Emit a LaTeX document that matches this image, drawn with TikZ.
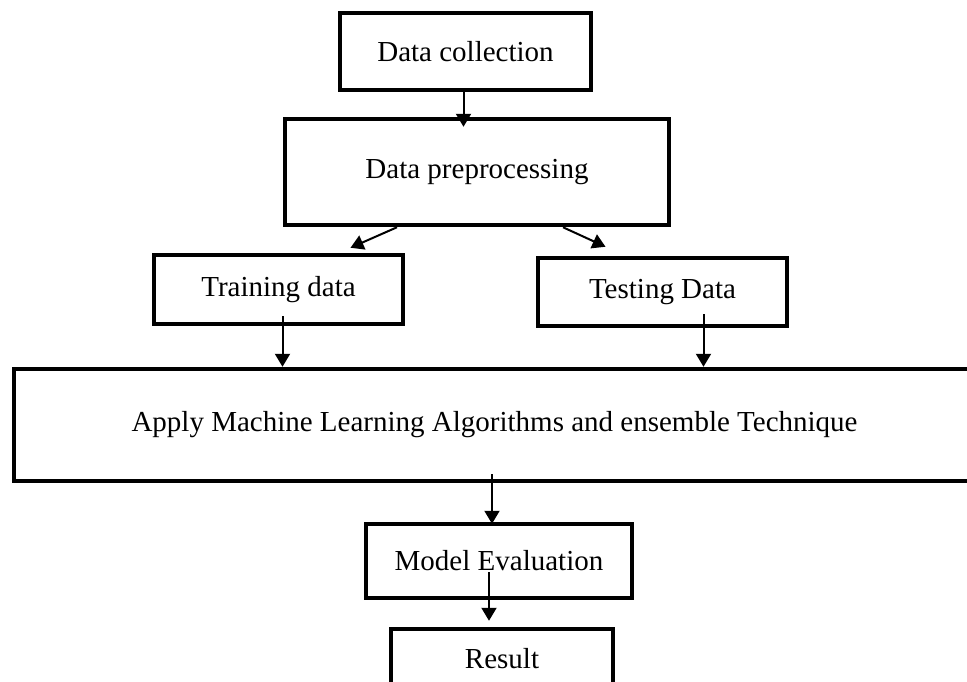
\documentclass[tikz,border=0pt]{standalone}
\usepackage{fontspec}
\setmainfont{Liberation Serif}
\usetikzlibrary{arrows.meta}
\tikzset{
  stage/.style={draw, line width=4.5pt, inner sep=0pt, font=\fontsize{29}{34}\selectfont},
  flow/.style={line width=2pt, -{Triangle[width=15pt,length=13pt]}}
}
\begin{document}
\begin{tikzpicture}[x=1pt,y=-1pt]
\useasboundingbox (0,0) rectangle (967,681);
\node[stage, minimum width=251pt, minimum height=77pt] (collect) at (465.5,51.5) {Data collection};
\node[stage, minimum width=384pt, minimum height=106pt] (prep) at (477,172) {Data preprocessing};
\node[stage, minimum width=249pt, minimum height=69pt] (train) at (278.5,289.5) {Training data};
\node[stage, minimum width=249pt, minimum height=68pt] (test) at (662.5,292) {Testing Data};
\node[stage, minimum width=961pt, minimum height=112pt] (apply) at (494.5,425) {Apply Machine Learning Algorithms and ensemble Technique};
\node[stage, minimum width=266pt, minimum height=74pt] (model) at (499,561) {Model Evaluation};
\node[stage, minimum width=222pt, minimum height=60pt] (result) at (502,659) {Result};

\draw[flow] ([xshift=-2pt]collect.south) -- ([xshift=-2pt,yshift=-10pt]collect.south |- prep.north);
\draw[flow] ([xshift=-80pt]prep.south) -- ([xshift=72pt,yshift=5pt]train.north);
\draw[flow] ([xshift=86pt]prep.south) -- ([xshift=-57pt,yshift=9pt]test.north);
\draw[flow] ([xshift=4pt,yshift=10pt]train.south) -- ([xshift=4pt]train.south |- apply.north);
\draw[flow] ([xshift=41pt,yshift=14pt]test.south) -- ([xshift=41pt]test.south |- apply.north);
\draw[flow] ([xshift=-2.5pt,yshift=9pt]apply.south) -- ([xshift=-2.5pt,yshift=-2pt]apply.south |- model.north);
\draw[flow] ([xshift=-10pt,yshift=-11pt]model.center) -- ([xshift=-10pt,yshift=6pt]model.center |- result.north);
\end{tikzpicture}
\end{document}
